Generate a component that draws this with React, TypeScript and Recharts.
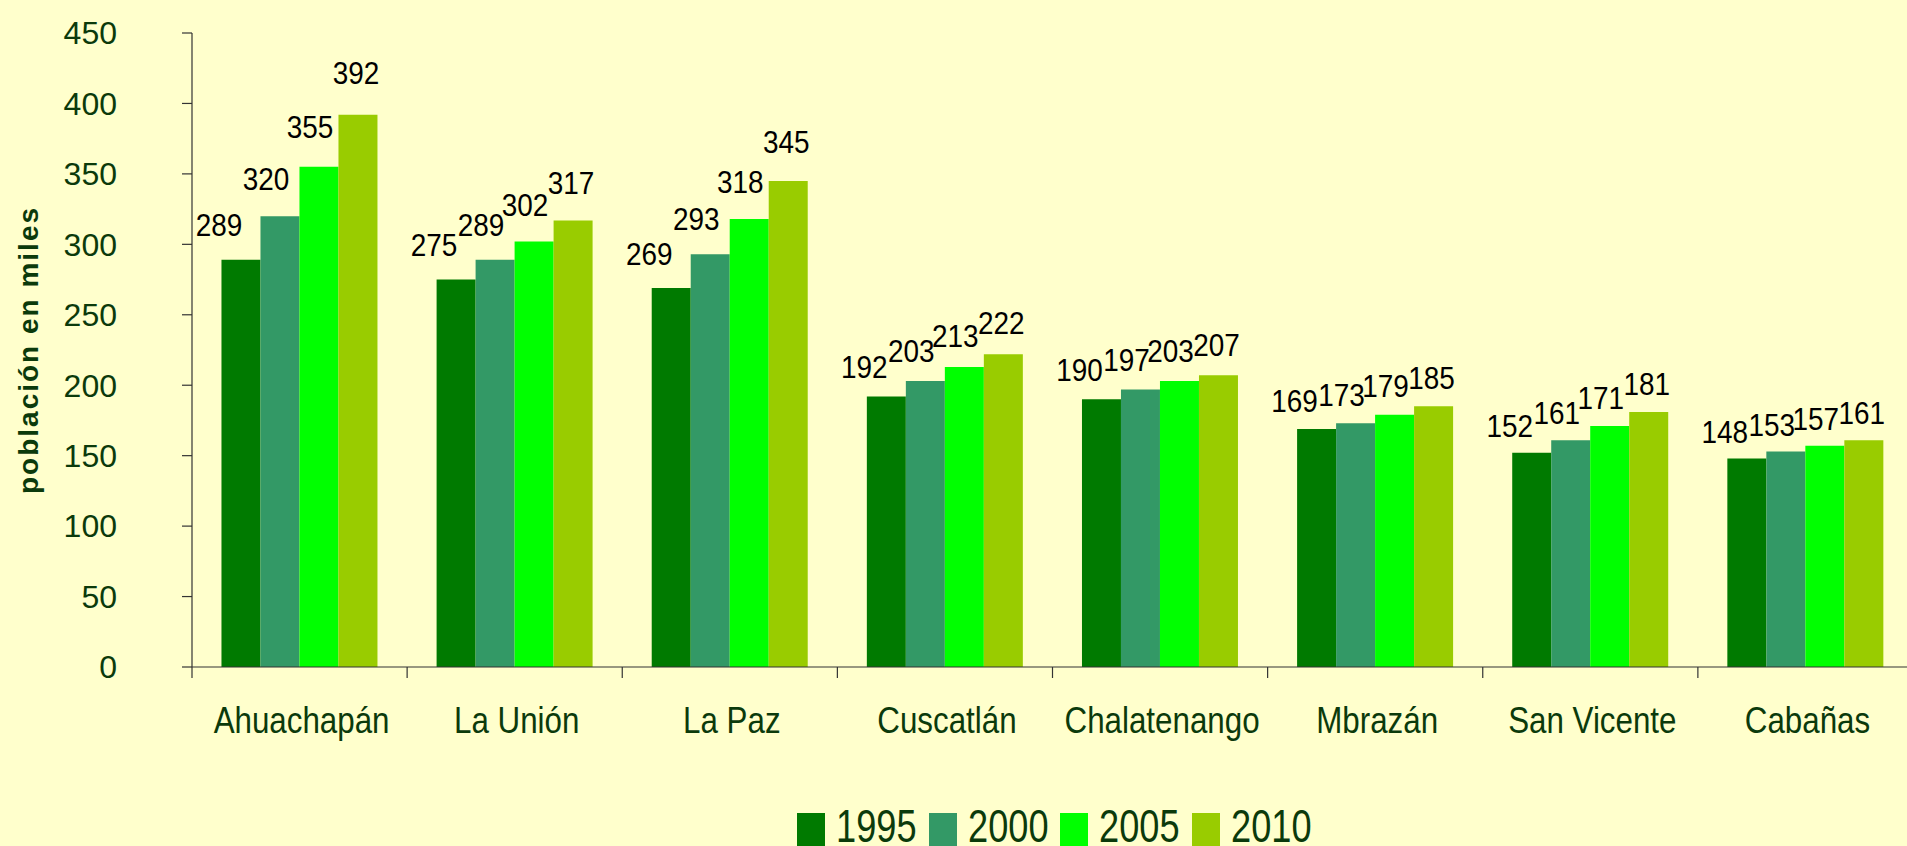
import React from "react";
import { BarChart, Bar, XAxis, YAxis, LabelList, Label } from "recharts";

// Población por departamento (miles)
const CATEGORIES = [
  "Ahuachapán",
  "La Unión",
  "La Paz",
  "Cuscatlán",
  "Chalatenango",
  "Mbrazán",
  "San Vicente",
  "Cabañas",
];
const Y1995 = [289, 275, 269, 192, 190, 169, 152, 148];
const Y2000 = [320, 289, 293, 203, 197, 173, 161, 153];
const Y2005 = [355, 302, 318, 213, 203, 179, 171, 157];
const Y2010 = [392, 317, 345, 222, 207, 185, 181, 161];
const SERIES_NAMES = ["1995", "2000", "2005", "2010"];
const Y_TICKS = [0, 50, 100, 150, 200, 250, 300, 350, 400, 450];

const COLORS = ["#007A00", "#339966", "#00FF00", "#99CC00"];
const LABEL_DX = [-22, -14, -9, -2];

const BG = "#FFFFCC";
const TEXT_GREEN = "#0B3A0B";
const AXIS = "#333333";
const SANS = '"Liberation Sans", Arial, sans-serif';

const CHART_W = 1913;
const CHART_H = 846;
const Y_AXIS_W = 192;
const BAND = (CHART_W - Y_AXIS_W) / CATEGORIES.length;

const data = CATEGORIES.map((name, i) => ({
  name,
  s1995: Y1995[i],
  s2000: Y2000[i],
  s2005: Y2005[i],
  s2010: Y2010[i],
}));
const KEYS = ["s1995", "s2000", "s2005", "s2010"];

const CategoryTick = (props: any) => {
  const { x, y, payload } = props;
  const left = x - BAND / 2;
  return (
    <g>
      <line x1={left} x2={left} y1={y - 40} y2={y - 29} stroke={AXIS} strokeWidth={1.2} />
      <text
        transform={`translate(${x + 2}, ${y}) scale(0.87, 1)`}
        x={0}
        y={0}
        dy="0.71em"
        textAnchor="middle"
        fill={TEXT_GREEN}
        style={{ fontFamily: SANS, fontSize: 36 }}
      >
        {payload.value}
      </text>
    </g>
  );
};

const makeValueLabel = (dx: number) => (props: any) => {
  const { x, y, width, height, value } = props;
  const lift = 6 + height * 0.045;
  const cx = x + width / 2 + dx;
  const cy = y - lift;
  return (
    <text
      transform={`translate(${cx}, ${cy}) scale(0.9, 1)`}
      x={0}
      y={0}
      textAnchor="middle"
      fill="#000"
      style={{ fontFamily: SANS, fontSize: 31 }}
    >
      {value}
    </text>
  );
};

const renderYLabel = (props: any) => {
  const vb = props.viewBox || { x: 0, y: 33, width: 192, height: 634 };
  const cx = vb.x + 38;
  const cy = vb.y + vb.height / 2;
  return (
    <text
      x={cx}
      y={cy}
      textAnchor="middle"
      transform={`rotate(-90, ${cx}, ${cy})`}
      fill={TEXT_GREEN}
      style={{ fontFamily: SANS, fontSize: 28, fontWeight: 700, letterSpacing: 2 }}
    >
      población en miles
    </text>
  );
};

export default function App() {
  return (
    <div
      style={{
        position: "fixed",
        left: 0,
        top: 0,
        width: 1907,
        height: 846,
        overflow: "hidden",
        background: BG,
      }}
    >
      <BarChart
        width={CHART_W}
        height={CHART_H}
        data={data}
        margin={{ top: 33, right: 0, left: 0, bottom: 0 }}
        barCategoryGap="13.7%"
        barGap={0}
      >
        <XAxis
          dataKey="name"
          height={179}
          axisLine={{ stroke: AXIS, strokeWidth: 1.2 }}
          tickLine={false}
          tickSize={0}
          tickMargin={40}
          interval={0}
          tick={<CategoryTick />}
        />
        <YAxis
          width={Y_AXIS_W}
          domain={[0, 450]}
          ticks={Y_TICKS}
          interval={0}
          axisLine={{ stroke: AXIS, strokeWidth: 1.2 }}
          tickLine={{ stroke: AXIS, strokeWidth: 1.2 }}
          tickSize={10}
          tickMargin={65}
          tick={{ fill: TEXT_GREEN, fontSize: 32, fontFamily: SANS }}
        >
          <Label content={renderYLabel} />
        </YAxis>
        {KEYS.map((k, i) => (
          <Bar key={k} dataKey={k} name={SERIES_NAMES[i]} fill={COLORS[i]} isAnimationActive={false}>
            <LabelList dataKey={k} content={makeValueLabel(LABEL_DX[i])} />
          </Bar>
        ))}
      </BarChart>

      <div style={{ position: "absolute", left: 797, top: 808, width: 530, height: 38 }}>
        {SERIES_NAMES.map((name, i) => (
          <div key={name} style={{ position: "absolute", left: i * 131.5, top: 0 }}>
            <div
              style={{
                position: "absolute",
                left: 0,
                top: 5,
                width: 28,
                height: 33,
                background: COLORS[i],
              }}
            />
            <span
              style={{
                position: "absolute",
                left: 39,
                top: 0,
                display: "inline-block",
                whiteSpace: "nowrap",
                fontFamily: SANS,
                fontSize: 47,
                lineHeight: "36px",
                color: TEXT_GREEN,
                transform: "scaleX(0.77)",
                transformOrigin: "left top",
              }}
            >
              {name}
            </span>
          </div>
        ))}
      </div>
    </div>
  );
}
